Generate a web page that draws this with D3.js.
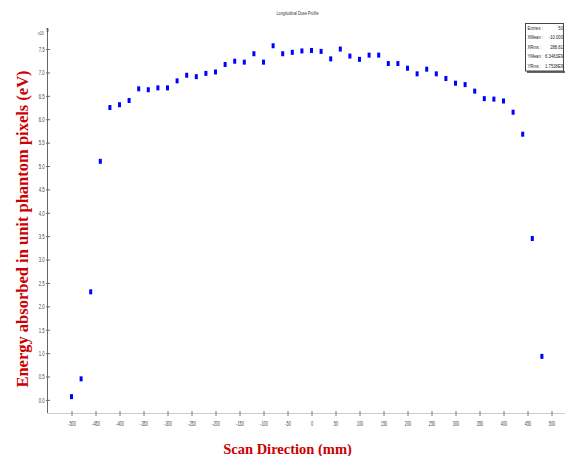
<!DOCTYPE html>
<html><head><meta charset="utf-8">
<script src="https://cdn.jsdelivr.net/npm/d3@7"></script>
<style>body{margin:0;background:#fff}svg{display:block}</style>
</head><body><svg id="c" width="565" height="456"></svg>
<script>
// Scan position (mm)
const xValues = [-500,-480,-460,-440,-420,-400,-380,-360,-340,-320,
                 -300,-280,-260,-240,-220,-200,-180,-160,-140,-120,
                 -100,-80,-60,-40,-20,0,20,40,60,80,
                 100,120,140,160,180,200,220,240,260,280,
                 300,320,340,360,380,400,420,440,460,480];
// Energy absorbed (x10^9 eV)
const yValues = [0.07,0.45,2.31,5.10,6.25,6.31,6.40,6.65,6.63,6.67,
                 6.67,6.82,6.94,6.91,6.98,7.01,7.17,7.24,7.22,7.40,
                 7.22,7.57,7.40,7.43,7.46,7.47,7.45,7.29,7.50,7.35,
                 7.28,7.37,7.37,7.19,7.19,7.09,6.97,7.07,6.97,6.87,
                 6.77,6.74,6.60,6.44,6.43,6.39,6.15,5.68,3.45,0.93];
const xTicks = [-500,-450,-400,-350,-300,-250,-200,-150,-100,-50,0,50,100,150,200,250,300,350,400,450,500];
const yTicks = [0,0.5,1,1.5,2,2.5,3,3.5,4,4.5,5,5.5,6,6.5,7,7.5];
const statsLabels = ["Entries :","XMean :","XRms :","YMean :","YRms :"];
const statsValues = ["50","-10.000","288.81","6.3463E9","1.7538E9"];
const chartTitle = "Longitudinal Dose Profile";
const xTitle = "Scan Direction (mm)";
const yTitle = "Energy absorbed in unit phantom pixels (eV)";

const svg = d3.select("#c");
svg.append("rect").attr("width",565).attr("height",456).attr("fill","#fff");

const x = d3.scaleLinear().domain([-550,550]).range([47.5,575.5]);
const y = d3.scaleLinear().domain([-0.28,7.95]).range([413,28]);
const sans = "'Liberation Sans', Arial, sans-serif";
const serif = "'Liberation Serif', 'Times New Roman', serif";

// X axis
const gx = svg.append("g").attr("transform","translate(0,413)");
gx.append("line").attr("x1",47.5).attr("x2",565).attr("y1",0.5).attr("y2",0.5)
  .attr("stroke","#cfcfcf").attr("stroke-width",1);
const xAxis = d3.axisBottom(x).tickValues(xTicks).tickSize(3).tickFormat(d => String(d));
const gxa = gx.append("g").call(xAxis);
gxa.select(".domain").remove();
gxa.selectAll(".tick line").attr("y1",-2).attr("y2",3).attr("stroke","#777");
gxa.selectAll(".tick text").attr("y",13).attr("dy",null)
  .attr("transform","scale(0.6,1)")
  .style("font-family",sans).style("font-size","6.5px").attr("fill","#444");

// Y axis
const gy = svg.append("g").attr("transform","translate(47.5,0)");
gy.append("line").attr("x1",0).attr("x2",0).attr("y1",28).attr("y2",413)
  .attr("stroke","#666").attr("stroke-width",1);
const yAxis = d3.axisLeft(y).tickValues(yTicks).tickSize(2).tickFormat(d3.format(".1f"));
const gya = gy.append("g").call(yAxis);
gya.select(".domain").remove();
gya.selectAll(".tick line").attr("x1",-1.5).attr("x2",2.5).attr("stroke","#666");
gya.selectAll(".tick text").attr("x",-3/0.65).attr("dy","0.35em")
  .attr("transform","scale(0.65,1)")
  .style("font-family",sans).style("font-size","6.5px").attr("fill","#444");

// exponent
const ex = svg.append("g").attr("transform","translate(38,35)");
ex.append("text").attr("transform","scale(0.65,1)").text("x10")
  .style("font-family",sans).style("font-size","5.5px").attr("fill","#444");
ex.append("text").attr("x",8).attr("y",-3).text("9")
  .style("font-family",sans).style("font-size","5px").attr("fill","#444");

// markers
svg.append("g").selectAll("rect").data(xValues.map((v,i)=>[v,yValues[i]])).join("rect")
  .attr("x",d=>x(d[0])-1.5).attr("y",d=>y(d[1])-2.5)
  .attr("width",3).attr("height",5).attr("fill","#0000ff");

// title
svg.append("text").attr("x",297.5).attr("y",15).attr("text-anchor","middle")
  .attr("textLength",42).attr("lengthAdjust","spacingAndGlyphs")
  .style("font-family",sans).style("font-size","6px").attr("fill","#333").text(chartTitle);

// stats box
const sb = svg.append("g");
sb.append("line").attr("x1",527).attr("x2",565).attr("y1",72).attr("y2",72).attr("stroke","#333").attr("stroke-width",1.5);
sb.append("rect").attr("x",525.5).attr("y",23.5).attr("width",38).attr("height",47.5)
  .attr("fill","#fff").attr("stroke","#444").attr("stroke-width",1);
const rowsY = [29.5,39,48.5,58,67.5];
statsLabels.forEach((l,i)=>{
  sb.append("text").attr("transform",`translate(527.5,${rowsY[i]}) scale(0.7,1)`)
    .text(l).style("font-family",sans).style("font-size","6px").attr("fill","#222");
  sb.append("text").attr("transform",`translate(563,${rowsY[i]}) scale(0.7,1)`)
    .attr("text-anchor","end")
    .text(statsValues[i]).style("font-family",sans).style("font-size","6px").attr("fill","#222");
});

// axis titles
svg.append("text").attr("x",287.5).attr("y",454).attr("text-anchor","middle")
  .style("font-family",serif).style("font-size","14.5px").style("font-weight","bold")
  .attr("fill","#cc0000").text(xTitle);
svg.append("text").attr("transform","translate(28,229) rotate(-90)").attr("text-anchor","middle")
  .style("font-family",serif).style("font-size","16.5px").style("font-weight","bold")
  .attr("fill","#cc0000").text(yTitle);
</script>
</body></html>
